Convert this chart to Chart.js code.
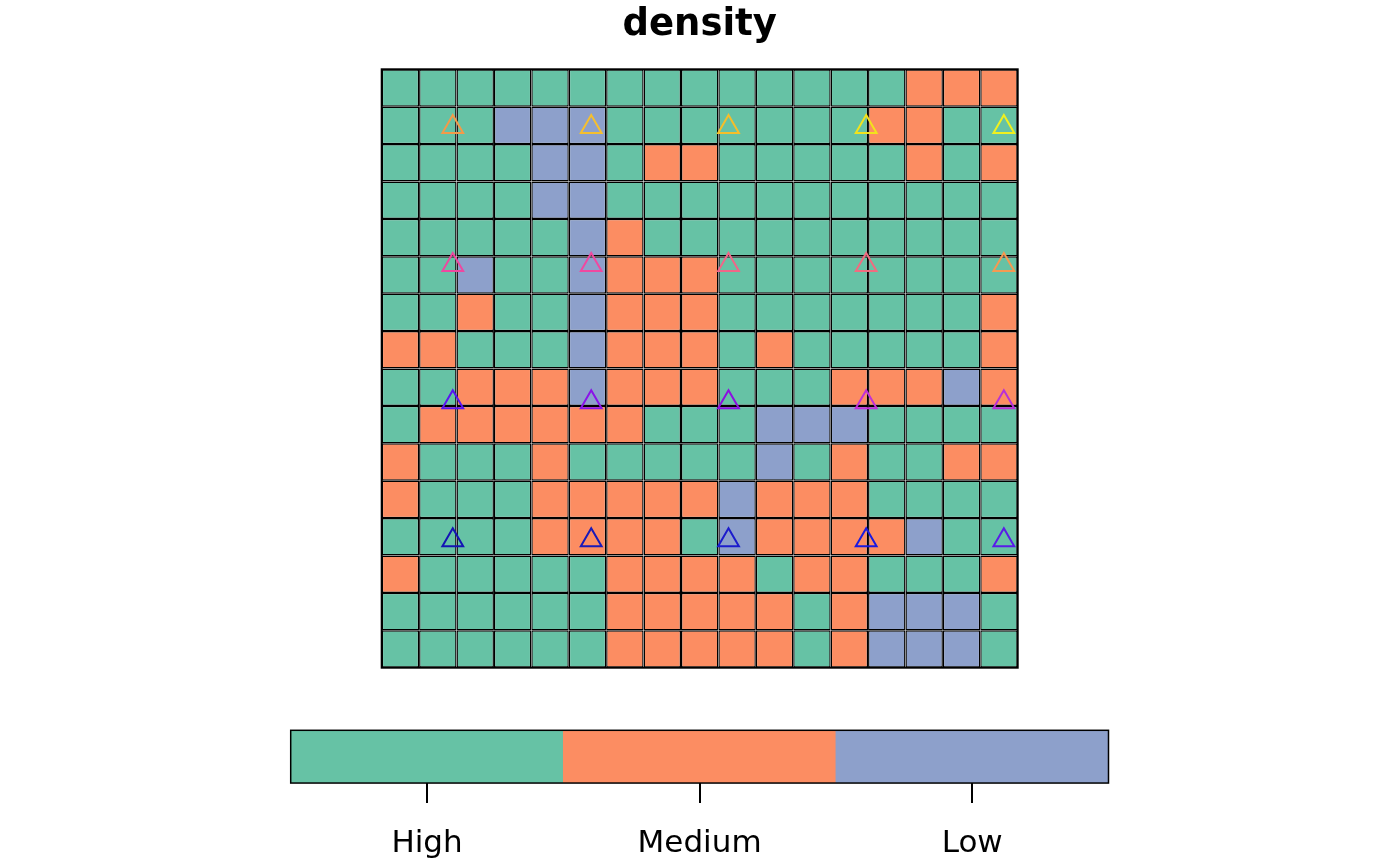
<!DOCTYPE html>
<html><head><meta charset="utf-8">
<script src="https://cdn.jsdelivr.net/npm/chart.js@4/dist/chart.umd.min.js"></script>
<style>
html,body{margin:0;padding:0;background:#fff;width:1400px;height:866px;overflow:hidden}
#main{position:absolute;left:0;top:0;width:1400px;height:700px}
#leg{position:absolute;left:0;top:700px;width:1400px;height:170px}
</style></head><body>
<div id="main"><canvas id="c1"></canvas></div>
<div id="leg"><canvas id="c2"></canvas></div>
<script>
// ---- data ----
const classNames = ['High', 'Medium', 'Low'];
const classCodes = ['H', 'M', 'L'];
const classColors = ['#66C2A5', '#FC8D62', '#8DA0CB'];
const columnLabels = ['1','2','3','4','5','6','7','8','9','10','11','12','13','14','15','16','17'];
// grid rows, top to bottom
const gridRows = [
  'HHHHHHHHHHHHHHMMM',
  'HHHLLLHHHHHHHMMHH',
  'HHHHLLHMMHHHHHMHM',
  'HHHHLLHHHHHHHHHHH',
  'HHHHHLMHHHHHHHHHH',
  'HHLHHLMMMHHHHHHHH',
  'HHMHHLMMMHHHHHHHM',
  'MMHHHLMMMHMHHHHHM',
  'HHMMMLMMMHHHMMMLM',
  'HMMMMMMHHHLLLHHHH',
  'MHHHMHHHHHLHMHHMM',
  'MHHHMMMMMLMMMHHHH',
  'HHHHMMMMHLMMMMLHH',
  'MHHHHHMMMMHMMHHHM',
  'HHHHHHMMMMMHMLLLH',
  'HHHHHHMMMMMHMLLLH'
];
// triangle sample points (grid units, y measured from bottom)
const pointX = [1.90, 5.60, 9.27, 12.95, 16.63];
const pointY = [14.46, 10.77, 7.10, 3.41];
const pointColors = [
  '#F39A49', '#F5BF2E', '#F5BE2A', '#F2E21C', '#F0F01E',
  '#EE48A0', '#F048A0', '#F06688', '#F06C80', '#F49A52',
  '#5A14F0', '#8A14E8', '#8C10E0', '#C030D8', '#B830D8',
  '#1414B4', '#1A1AB8', '#1C1CCC', '#1A1AE0', '#5A1CE8'
];

Chart.defaults.font.family = 'DejaVu Sans';
Chart.defaults.color = '#000';

const framePlugin = {
  id: 'frame',
  afterDatasetsDraw(chart, args, opts) {
    const a = chart.chartArea, ctx = chart.ctx;
    ctx.save();
    ctx.strokeStyle = '#000';
    ctx.lineWidth = opts.width || 1.5;
    ctx.strokeRect(a.left, a.top, a.right - a.left, a.bottom - a.top);
    ctx.restore();
  }
};

const rowsBottomUp = gridRows.slice().reverse();
const cellSets = rowsBottomUp.map((row, i) => ({
  type: 'bar',
  label: 'row' + i,
  order: 1,
  xAxisID: 'x', yAxisID: 'y',
  data: row.split('').map(() => 1),
  backgroundColor: row.split('').map(c => classColors[classCodes.indexOf(c)]),
  borderColor: '#000',
  borderWidth: 1.4,
  borderSkipped: false,
  inflateAmount: 0,
  grouped: false,
  categoryPercentage: 1,
  barPercentage: 1
}));

const pts = [];
pointY.forEach(y => pointX.forEach(x => pts.push({x, y})));

const triSet = {
  type: 'scatter',
  label: 'points',
  order: 0,
  xAxisID: 'xp', yAxisID: 'yp',
  data: pts,
  pointStyle: 'triangle',
  pointRadius: 12,
  pointHoverRadius: 12,
  pointBorderWidth: 2,
  pointBackgroundColor: 'rgba(0,0,0,0)',
  pointBorderColor: pointColors
};

new Chart(document.getElementById('c1'), {
  type: 'bar',
  data: { labels: columnLabels, datasets: [triSet, ...cellSets] },
  options: {
    responsive: true, maintainAspectRatio: false, animation: false,
    layout: { padding: { left: 381.7, right: 382.3, top: 0, bottom: 32.3 } },
    plugins: {
      legend: { display: false },
      tooltip: { enabled: false },
      title: {
        display: true, text: 'density', color: '#000',
        font: { family: 'DejaVu Sans', size: 37, weight: 'bold' },
        padding: { top: 3.5, bottom: 21.4 }
      },
      frame: { width: 2 }
    },
    scales: {
      x: { type: 'category', axis: 'x', display: false, offset: true, stacked: true },
      y: { type: 'linear', axis: 'y', display: false, stacked: true, min: 0, max: 16 },
      xp: { type: 'linear', axis: 'x', display: false, offset: false, min: 0, max: 17, grid: { offset: false } },
      yp: { type: 'linear', axis: 'y', display: false, offset: false, min: 0, max: 16 }
    }
  },
  plugins: [framePlugin]
});

new Chart(document.getElementById('c2'), {
  type: 'bar',
  data: {
    labels: classNames,
    datasets: [{
      data: classNames.map(() => 1),
      backgroundColor: classColors,
      borderWidth: 0,
      categoryPercentage: 1,
      barPercentage: 1
    }]
  },
  options: {
    responsive: true, maintainAspectRatio: false, animation: false,
    layout: { padding: { left: 290.7, right: 291.5, top: 0, bottom: 3.9 } },
    plugins: {
      legend: { display: false },
      tooltip: { enabled: false },
      // empty spacer box above the colour bar
      title: { display: true, text: '', font: { size: 10, lineHeight: 1.2 }, padding: { top: 0, bottom: 18.3 } },
      frame: { width: 1.5 }
    },
    scales: {
      x: {
        type: 'category', offset: true,
        grid: { display: true, drawOnChartArea: false, drawTicks: true, tickLength: 20, offset: false, color: '#000', lineWidth: 2 },
        border: { display: false },
        ticks: { padding: 22, color: '#000', font: { family: 'DejaVu Sans', size: 31, lineHeight: 1.226 } }
      },
      y: { display: false, min: 0, max: 1 }
    }
  },
  plugins: [framePlugin]
});
</script>
</body></html>
